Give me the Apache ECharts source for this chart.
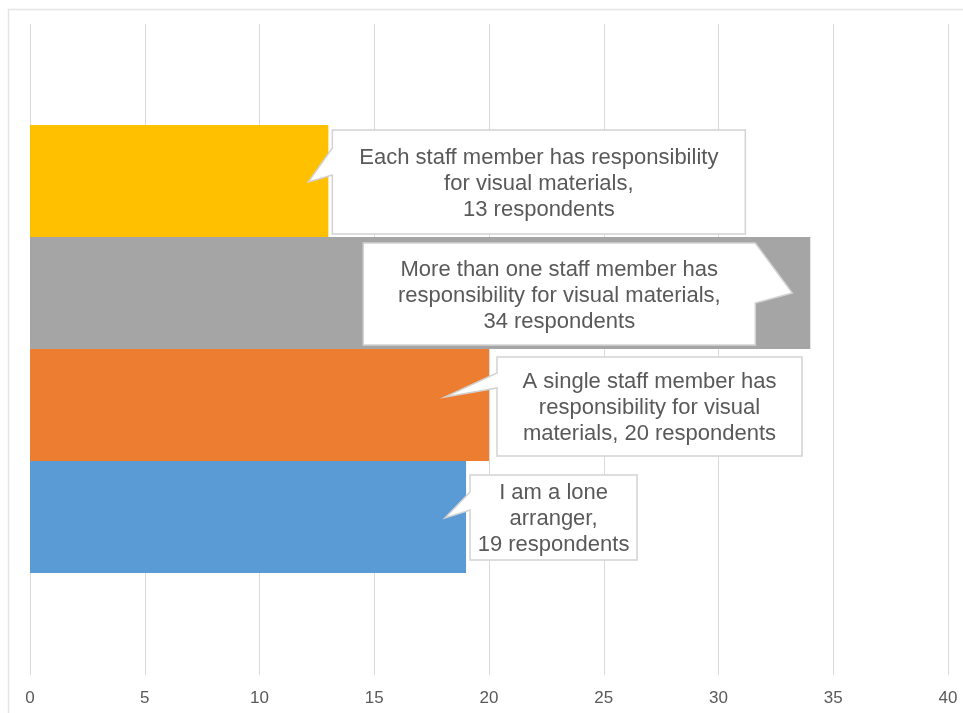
<!DOCTYPE html>
<html>
<head>
<meta charset="utf-8">
<script src="https://cdn.jsdelivr.net/npm/echarts@6/dist/echarts.min.js"></script>
<style>
  html, body { margin: 0; padding: 0; background: #ffffff; }
  #chart { width: 963px; height: 713px; }
</style>
</head>
<body>
<div id="chart"></div>
<script>
// Responses, listed bottom-to-top as the bars are stacked
const categories = [
  'I am a lone arranger',
  'A single staff member has responsibility for visual materials',
  'More than one staff member has responsibility for visual materials',
  'Each staff member has responsibility for visual materials'
];
const respondents = [19, 20, 34, 13];
const barColors = ['#5B9BD5', '#ED7D31', '#A5A5A5', '#FFC000'];

// Value axis ticks
const axisMin = 0;
const axisMax = 40;
const axisStep = 5;

// Callout wording; {v} is replaced with the respondent count
const calloutText = [
  'I am a lone\narranger,\n{v} respondents',
  'A single staff member has\nresponsibility for visual\nmaterials, {v} respondents',
  'More than one staff member has\nresponsibility for visual materials,\n{v} respondents',
  'Each staff member has responsibility\nfor visual materials,\n{v} respondents'
];

// Callout geometry, relative to the end of each bar (pixels)
const calloutLayout = [
  { box: [4, -42, 167, 85],   side: 'left',  base: [-25, -7], tip: [-21, 1] },
  { box: [8, -48, 305, 99],   side: 'left',  base: [-32, -17], tip: [-44, -8] },
  { box: [-447, -50, 392, 102], side: 'right', base: [-50, 10], tip: [-18, 0] },
  { box: [4, -51, 413, 104],  side: 'left',  base: [-33, -6], tip: [-20, 1] }
];

const textColor = '#595959';
const fontFamily = '"Liberation Sans", Arial, Helvetica, sans-serif';

const chart = echarts.init(document.getElementById('chart'), null, { renderer: 'canvas' });

function renderCallout(params, api) {
  const i = params.dataIndex;
  const end = api.coord([api.value(0), api.value(1)]);
  const bx = end[0], cy = end[1];
  const L = calloutLayout[i];
  const x0 = bx + L.box[0], y0 = cy + L.box[1];
  const x1 = x0 + L.box[2], y1 = y0 + L.box[3];
  const tip = [bx + L.tip[0], cy + L.tip[1]];
  let pts;
  if (L.side === 'left') {
    pts = [[x0, y0], [x1, y0], [x1, y1], [x0, y1], [x0, cy + L.base[1]], tip, [x0, cy + L.base[0]]];
  } else {
    pts = [[x0, y0], [x1, y0], [x1, cy + L.base[0]], tip, [x1, cy + L.base[1]], [x1, y1], [x0, y1]];
  }
  const label = calloutText[i].replace('{v}', respondents[i]);
  return {
    type: 'group',
    children: [
      {
        type: 'polygon',
        shape: { points: pts },
        style: { fill: '#ffffff', stroke: '#d2d2d2', lineWidth: 1.5 }
      },
      {
        type: 'text',
        style: {
          x: (x0 + x1) / 2,
          y: (y0 + y1) / 2 + 1.5,
          text: label,
          align: 'center',
          verticalAlign: 'middle',
          fill: textColor,
          fontSize: 22,
          fontFamily: fontFamily,
          lineHeight: 26
        }
      }
    ]
  };
}

chart.setOption({
  backgroundColor: '#ffffff',
  animation: false,
  graphic: [
    {
      type: 'rect',
      silent: true,
      z: -10,
      shape: { x: 8.5, y: 9.5, width: 1000, height: 1000 },
      style: { fill: 'none', stroke: '#e4e4e4', lineWidth: 1.5 }
    }
  ],
  grid: [
    { left: 30, right: 15, top: 24, bottom: 38, containLabel: false },
    { left: 30, right: 15, top: 125, bottom: 140, containLabel: false }
  ],
  xAxis: [
    {
      type: 'value', gridIndex: 0,
      min: axisMin, max: axisMax, interval: axisStep,
      axisLine: { show: false }, axisTick: { show: false },
      splitLine: { show: true, lineStyle: { color: '#d9d9d9', width: 1 } },
      axisLabel: { color: textColor, fontSize: 17, fontFamily: fontFamily, margin: 15 }
    },
    {
      type: 'value', gridIndex: 1,
      min: axisMin, max: axisMax, interval: axisStep,
      show: false
    }
  ],
  yAxis: [
    { type: 'value', gridIndex: 0, show: false, min: 0, max: 1 },
    { type: 'category', gridIndex: 1, data: categories, show: false }
  ],
  series: [
    {
      type: 'bar',
      xAxisIndex: 1, yAxisIndex: 1,
      barCategoryGap: 0,
      data: respondents.map((v, i) => ({ value: v, itemStyle: { color: barColors[i] } })),
      z: 2
    },
    {
      type: 'custom',
      xAxisIndex: 1, yAxisIndex: 1,
      clip: false,
      z: 5,
      data: respondents.map((v, i) => [v, i]),
      renderItem: renderCallout
    }
  ]
});
</script>
</body>
</html>
